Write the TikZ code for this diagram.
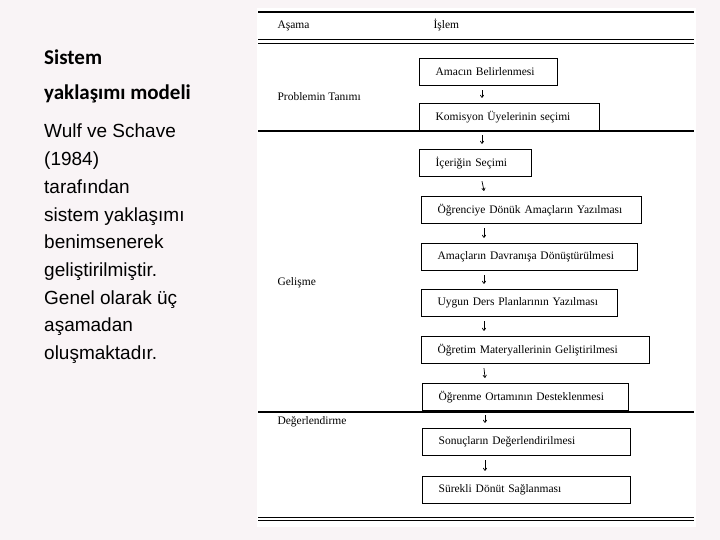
\documentclass[tikz,border=0pt]{standalone}
\usepackage{fontspec}
\setmainfont{Liberation Serif}
\newfontfamily\calfnt{Carlito}
\newfontfamily\arifnt{Liberation Sans}
\usetikzlibrary{arrows.meta}
\begin{document}
\begin{tikzpicture}[x=1pt,y=-1pt,
  box/.style={draw,line width=1.3pt,anchor=west,minimum height=27pt,inner xsep=16pt,font=\fontsize{11.5}{12}\selectfont},
  lbl/.style={anchor=west,font=\fontsize{11.5}{12}\selectfont},
  rule/.style={line width=1.3pt},
  arr/.style={-{To[length=3pt,width=4pt]},line width=0.7pt}]
\fill[fill={rgb,255:red,249;green,244;blue,246}] (0,0) rectangle (720,540);
\fill[white] (257,8) rectangle (696,527);
% left text
\node[anchor=north west,align=left,inner sep=0pt,font=\calfnt\bfseries\fontsize{21}{35}\selectfont] (title) at (44,50) {Sistem\\yaklaşımı modeli};
\node[anchor=north west,align=left,inner sep=0pt,font=\arifnt\fontsize{19}{27.7}\selectfont] (body) at (44,124) {Wulf ve Schave\\(1984)\\tarafından\\sistem yaklaşımı\\benimsenerek\\geliştirilmiştir.\\Genel olarak üç\\aşamadan\\oluşmaktadır.};
% rules
\draw[rule] (258,12) -- (694,12);
\draw[line width=1pt] (258,40) -- (694,40);
\draw[line width=1pt] (258,43.5) -- (694,43.5);
\draw[rule] (258,131) -- (694,131);
\draw[rule] (258,412) -- (694,412);
\draw[line width=1pt] (258,517) -- (694,517);
\draw[line width=1pt] (258,520.5) -- (694,520.5);
% headers
\node[lbl] (h1) at (274,26) {Aşama};
\node[lbl] (h2) at (430,25) {İşlem};
\node[lbl] (p1) at (274,97) {Problemin Tanımı};
\node[lbl] (p2) at (274,283) {Gelişme};
\node[lbl] (p3) at (274,422) {Değerlendirme};
% boxes
\node[box,text width=106pt] (b1) at (419,72) {Amacın Belirlenmesi};
\node[box,text width=148pt] (b2) at (419,117) {Komisyon Üyelerinin seçimi};
\node[box,text width=80pt] (b3) at (419,163) {İçeriğin Seçimi};
\node[box,text width=188pt] (b4) at (421,210) {Öğrenciye Dönük Amaçların Yazılması};
\node[box,text width=184pt] (b5) at (421,257) {Amaçların Davranışa Dönüştürülmesi};
\node[box,text width=164pt] (b6) at (421,303) {Uygun Ders Planlarının Yazılması};
\node[box,text width=196pt] (b7) at (421,350) {Öğretim Materyallerinin Geliştirilmesi};
\node[box,text width=174pt] (b8) at (422,397) {Öğrenme Ortamının Desteklenmesi};
\node[box,text width=176pt] (b9) at (422,442) {Sonuçların Değerlendirilmesi};
\node[box,text width=176pt] (b10) at (422,490) {Sürekli Dönüt Sağlanması};
\foreach \a/\b in {b1/b2,b2/b3,b3/b4,b4/b5,b5/b6,b6/b7,b7/b8,b8/b9,b9/b10}
  \draw[arr] ([xshift=63pt,yshift=-4pt]\a.south west) -- ([xshift=63pt,yshift=5pt]\b.north west);
\end{tikzpicture}
\end{document}
